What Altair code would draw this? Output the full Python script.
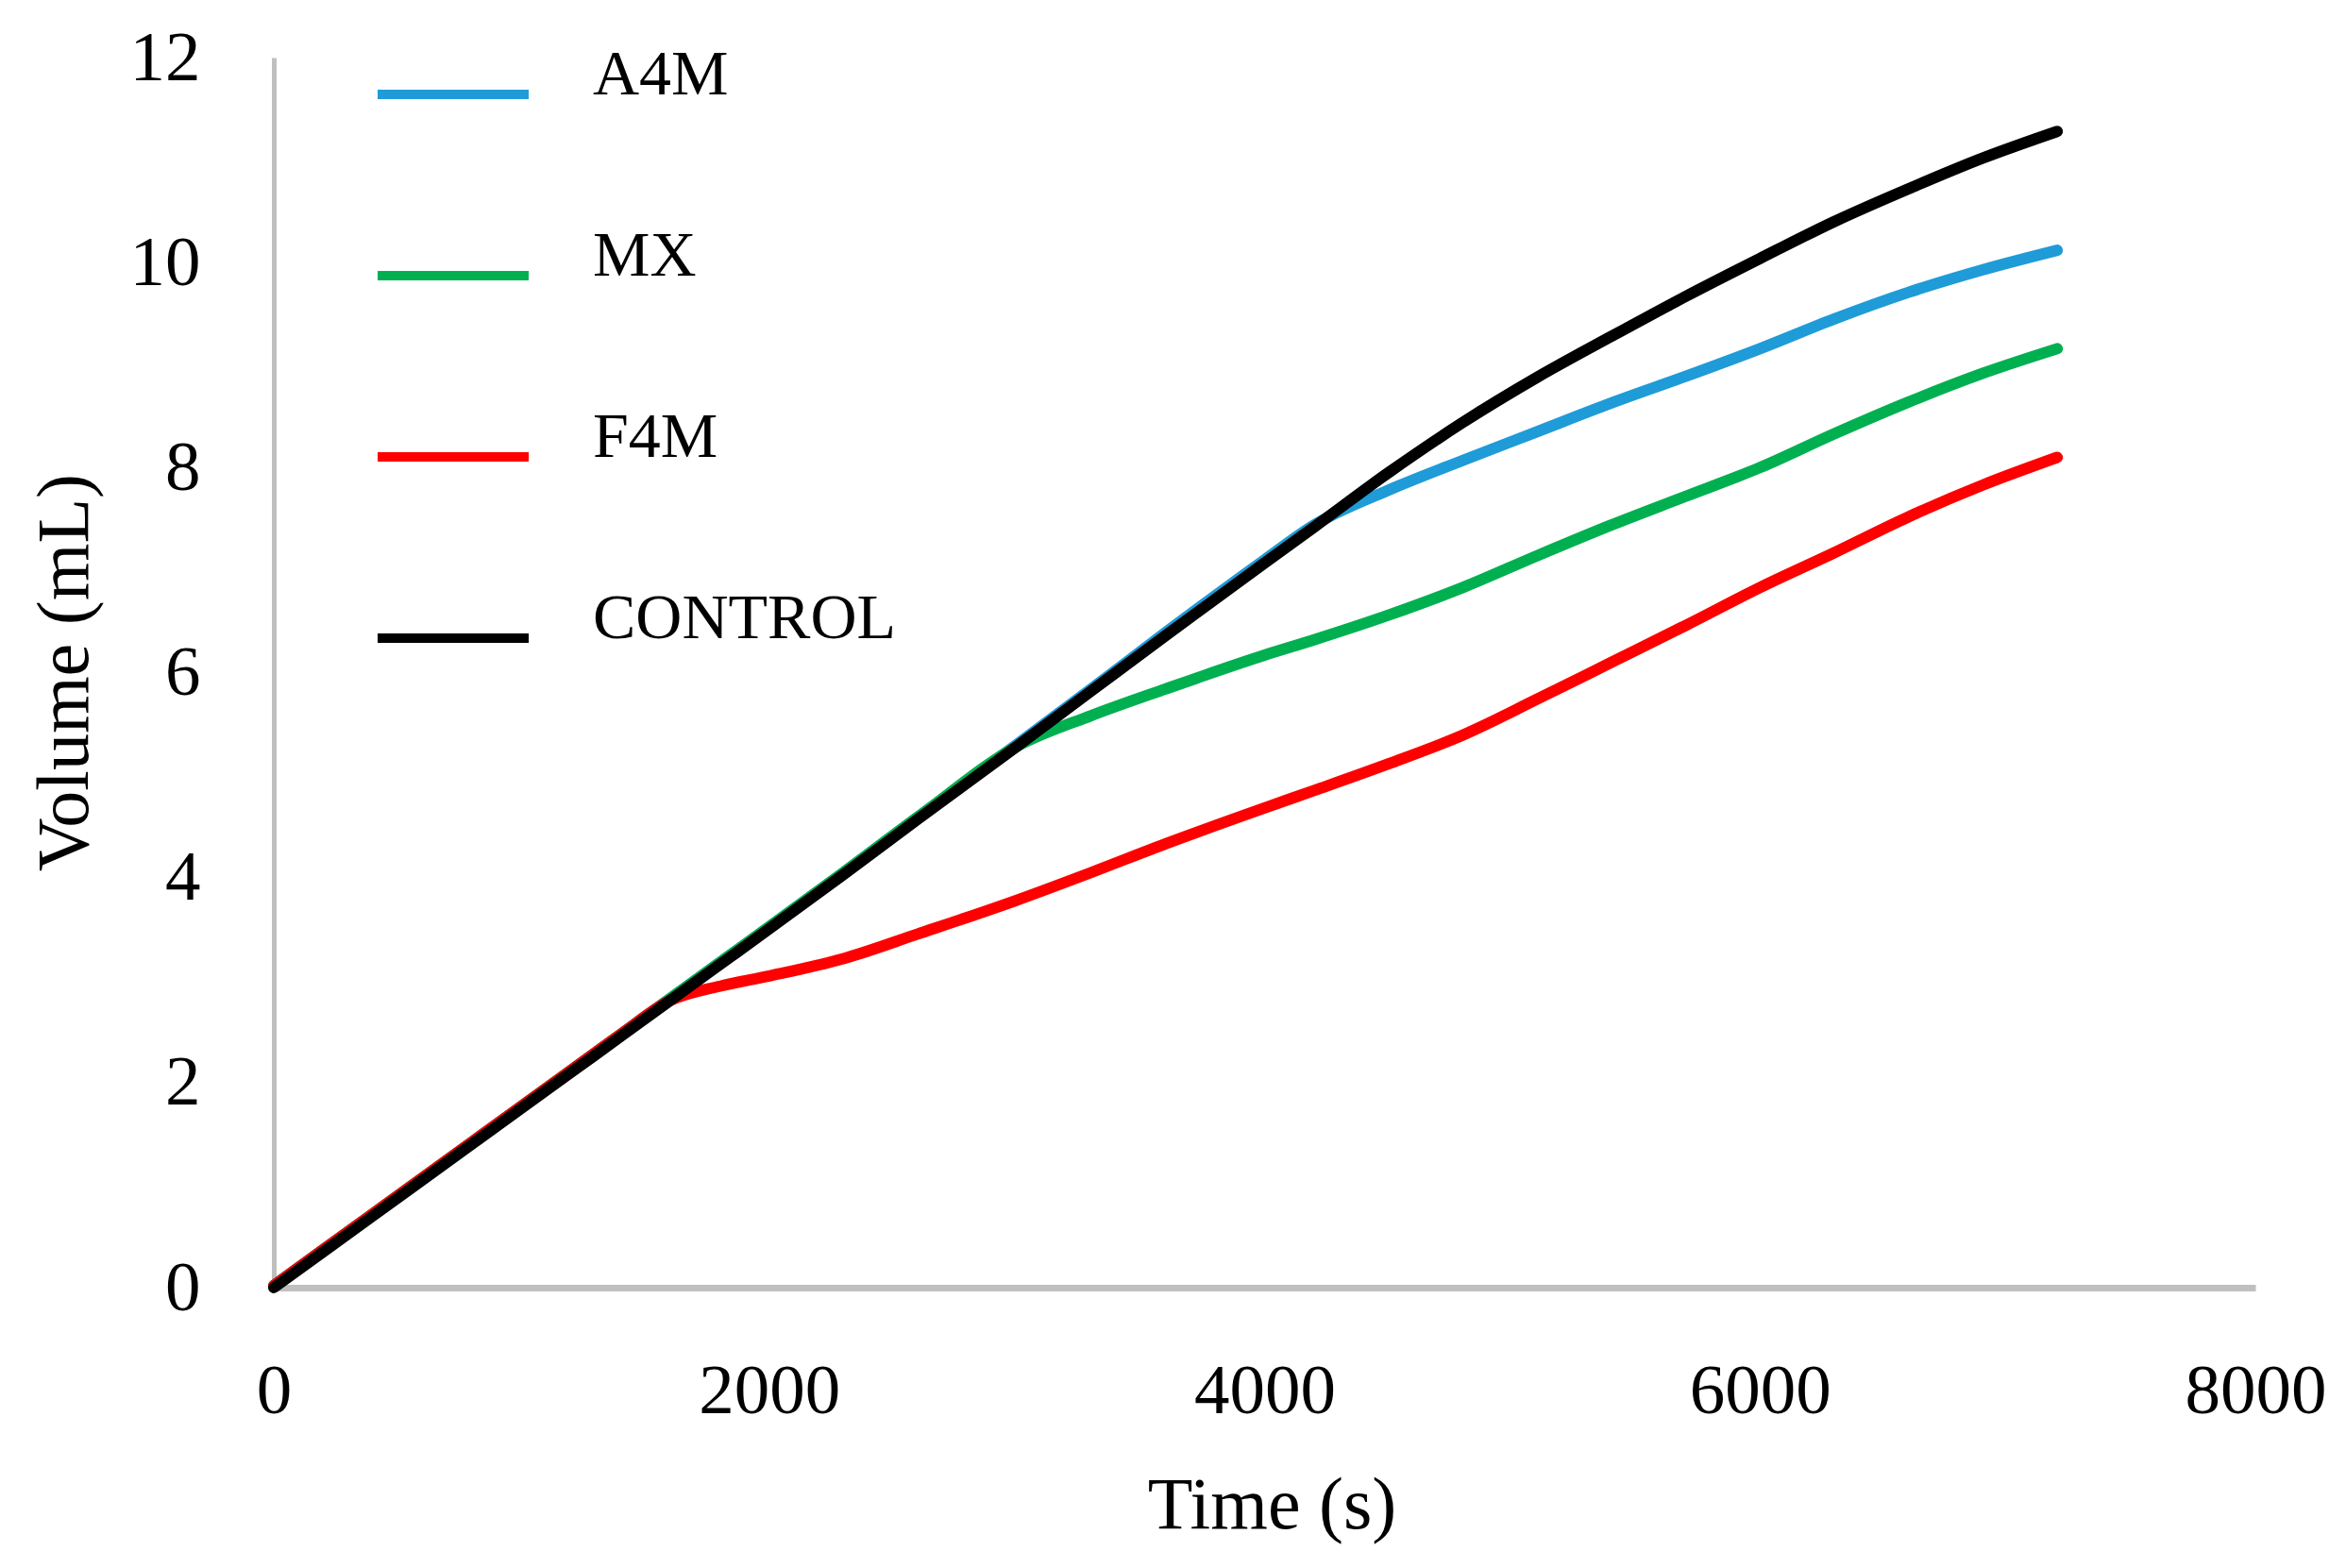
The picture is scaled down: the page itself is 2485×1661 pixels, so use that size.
import altair as alt
import pandas as pd

# ---- data ----
times = [0, 400, 800, 1200, 1400, 1600, 1800, 2000, 2300, 2600, 3000, 3300, 3600,
         4000, 4200, 4500, 4800, 5100, 5400, 5700, 6000, 6300, 6600, 6900, 7200]

a4m = [0.02, 0.72, 1.42, 2.12, 2.47, 2.82, 3.17, 3.52, 4.05, 4.59, 5.30, 5.84, 6.39,
       7.10, 7.44, 7.78, 8.07, 8.35, 8.63, 8.89, 9.16, 9.45, 9.71, 9.93, 10.12]

mx = [0.02, 0.72, 1.42, 2.12, 2.47, 2.82, 3.17, 3.52, 4.05, 4.59, 5.28, 5.58, 5.84,
      6.17, 6.32, 6.56, 6.83, 7.14, 7.44, 7.72, 8.00, 8.33, 8.64, 8.92, 9.16]

f4m = [0.02, 0.72, 1.42, 2.12, 2.47, 2.80, 2.94, 3.04, 3.21, 3.45, 3.78, 4.05, 4.33,
       4.68, 4.85, 5.11, 5.39, 5.74, 6.10, 6.46, 6.83, 7.17, 7.52, 7.83, 8.10]

control = [0.00, 0.70, 1.40, 2.10, 2.45, 2.80, 3.15, 3.50, 4.03, 4.57, 5.28, 5.82, 6.36,
           7.07, 7.42, 7.95, 8.44, 8.88, 9.28, 9.67, 10.04, 10.40, 10.72, 11.02, 11.28]

series_names = ["A4M", "MX", "F4M", "CONTROL"]
series_colors = ["#1F9BD8", "#00B050", "#FF0000", "#000000"]

x_ticks = [0, 2000, 4000, 6000, 8000]
y_ticks = [0, 2, 4, 6, 8, 10, 12]

rows = []
for name, vals in zip(series_names, [a4m, mx, f4m, control]):
    for t, v in zip(times, vals):
        rows.append({"series": name, "time": t, "volume": v})
df = pd.DataFrame(rows)

FONT = "Liberation Serif"

color_scale = alt.Scale(domain=series_names, range=series_colors)

x_enc = alt.X(
    "time:Q",
    scale=alt.Scale(domain=[0, 8000], nice=False, zero=True),
    axis=alt.Axis(
        values=x_ticks, title="Time (s)", format="d",
        grid=False, ticks=False, domainColor="#BFBFBF", domainWidth=7,
        labelFont=FONT, labelFontSize=75, labelColor="black", labelPadding=73,
        labelFlush=False, labelOverlap=False, labelBound=False,
        titleFont=FONT, titleFontSize=78, titleFontWeight="normal", titleColor="black",
        titleY=254, titleX=1057, titleBaseline="alphabetic",
    ),
)
y_enc = alt.Y(
    "volume:Q",
    scale=alt.Scale(domain=[0, 12], nice=False),
    axis=alt.Axis(
        values=y_ticks, title="Volume (mL)", format="d",
        grid=False, ticks=False, domainColor="#BFBFBF", domainWidth=5,
        labelFont=FONT, labelFontSize=75, labelColor="black", labelPadding=78,
        labelFlush=False, labelOverlap=False, labelBound=False,
        titleFont=FONT, titleFontSize=78, titleFontWeight="normal", titleColor="black",
        titleAngle=270, titleX=-198, titleY=651, titleBaseline="alphabetic", titleAlign="center",
    ),
)

legend = alt.Legend(
    title=None, orient="none", legendX=105, legendY=-46,
    symbolType="stroke", symbolSize=25600, symbolStrokeWidth=10,
    labelFont=FONT, labelFontSize=68, labelColor="black", labelOffset=63,
    labelLimit=1000, labelBaseline="alphabetic", rowPadding=87, padding=0,
)

layers = []
for name in series_names:
    layers.append(
        alt.Chart(df)
        .transform_filter(alt.datum.series == name)
        .mark_line(strokeWidth=12, strokeCap="round", strokeJoin="round", interpolate="monotone")
        .encode(
            x=x_enc,
            y=y_enc,
            color=alt.Color("series:N", scale=color_scale, legend=legend),
        )
    )

chart = (
    alt.layer(*layers)
    .properties(
        width=2099,
        height=1303,
        padding={"left": 282, "top": 53, "right": 88, "bottom": 289},
        autosize=alt.AutoSizeParams(type="none"),
        background="white",
    )
    .configure_view(stroke=None)
)

chart.save("out.html", embed_options={"renderer": "svg", "actions": False})
